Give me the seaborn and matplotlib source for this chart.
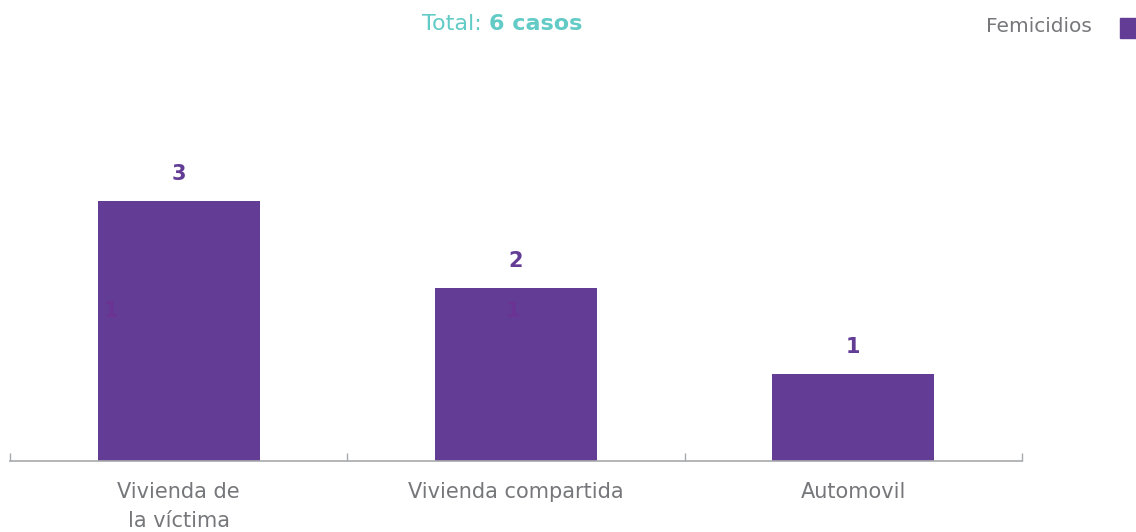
import seaborn as sns
import matplotlib.pyplot as plt
from matplotlib.patches import Rectangle

lugares = ['Vivienda de\nla víctima', 'Vivienda compartida', 'Automovil']
casos = [3, 2, 1]
ocultos = [1, 1, None]   # etiquetas casi invisibles dentro de las barras
total = 6

morado = '#633c96'
gris = '#76777a'
turquesa = '#62cbc5'

sns.set_theme(style='white')
plt.rcParams['font.family'] = ['DejaVu Sans']

fig = plt.figure(figsize=(11.36, 5.32), dpi=100)
ax = fig.add_axes([10 / 1136, 71 / 532, 1012 / 1136, 416 / 532])

sns.barplot(x=lugares, y=casos, color=morado, width=0.48, saturation=1, linewidth=0, ax=ax)

ax.set_xlim(-0.5, 2.5)
ax.set_ylim(0, 4.8)
sns.despine(ax=ax, left=True)
ax.spines['bottom'].set_color('#a7a9ac')
ax.spines['bottom'].set_linewidth(1.2)
ax.set_yticks([])
ax.set_xticks([0, 1, 2])
ax.set_xticklabels(lugares, color=gris, fontsize=15, linespacing=1.55)
ax.tick_params(axis='x', length=0, pad=15)
ax.set_xticks([-0.5, 0.5, 1.5, 2.5], minor=True)
ax.tick_params(axis='x', which='minor', length=6, width=1, color='#a7a9ac', direction='in', bottom=True)

for i, v in enumerate(casos):
    ax.text(i, v + 0.31, str(v), ha='center', va='center', color=morado,
            fontsize=15, fontweight='bold')

desplaz = [-0.2, -0.01]
for i, v in enumerate(ocultos):
    if v is not None:
        ax.text(i + desplaz[i], 1.73, str(v), ha='center', va='center', color='#6a3394',
                fontsize=15, fontweight='bold')

fig.text(489 / 1136, 1 - 24 / 532, 'Total: ', ha='right', va='center', color=turquesa, fontsize=16)
fig.text(489 / 1136, 1 - 24 / 532, f'{total} casos', ha='left', va='center', color=turquesa,
         fontsize=16, fontweight='bold')

fig.text(1092 / 1136, 1 - 27 / 532, 'Femicidios', ha='right', va='center', color=gris, fontsize=14.5)
fig.patches.append(Rectangle((1120 / 1136, 1 - 38 / 532), 16 / 1136, 20 / 532,
                             transform=fig.transFigure, color=morado, figure=fig))

fig.savefig('out.png', dpi=100)
